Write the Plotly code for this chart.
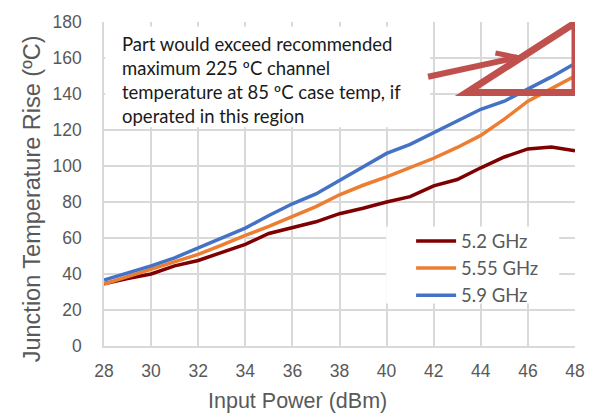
import plotly.graph_objects as go

power_dbm = [28, 29, 30, 31, 32, 33, 34, 35, 36, 37, 38, 39, 40, 41, 42, 43, 44, 45, 46, 47, 48]
rise_5_2 = [34.5, 37.5, 40, 44.5, 47.5, 52, 56.5, 62.5, 66, 69, 73.5, 76.5, 80, 83, 89, 92.5, 99, 105, 109.5, 110.5, 108.5]
rise_5_55 = [34.4, 38.5, 42.3, 46.6, 50.9, 56, 61.5, 66.4, 71.9, 77.4, 84, 89.3, 94, 99.3, 104.3, 110.3, 117, 126, 136, 143, 150]
rise_5_9 = [36.6, 40.5, 44.5, 49, 54.5, 60.5, 65.5, 72.5, 79, 84.5, 92, 100, 107, 112, 118.5, 124.5, 131.5, 136, 142.5, 149.5, 157]
series_names = ["5.2 GHz", "5.55 GHz", "5.9 GHz"]
series_colors = ["#7F0000", "#ED7D31", "#4472C4"]
x_ticks = [28, 30, 32, 34, 36, 38, 40, 42, 44, 46, 48]
y_ticks = [0, 20, 40, 60, 80, 100, 120, 140, 160, 180]

fig = go.Figure()
for name, vals, col in zip(series_names, [rise_5_2, rise_5_55, rise_5_9], series_colors):
    fig.add_trace(go.Scatter(x=power_dbm, y=vals, mode="lines", name=name,
                             line=dict(color=col, width=3.5), cliponaxis=False))

grid = "#D9D9D9"
gray = "#595959"
tickfont = dict(family="Liberation Sans, Arial", size=17.5, color=gray)
fig.update_layout(
    width=597, height=416,
    margin=dict(l=104, r=19, t=18, b=70),
    paper_bgcolor="white", plot_bgcolor="white",
    showlegend=True,
    legend=dict(x=0.652, y=(346 - 221) / 328, xanchor="left", yanchor="top",
                bgcolor="rgba(0,0,0,0)", font=dict(family="Lato", size=18.5, color=gray),
                tracegroupgap=0, itemwidth=40),
    xaxis=dict(range=[28, 48], tickvals=x_ticks, showgrid=True, gridcolor=grid, gridwidth=1.5,
               showline=True, linecolor=grid, linewidth=1.5, zeroline=False, ticks="",
               tickfont=tickfont, ticklabelstandoff=8),
    yaxis=dict(range=[0, 180], tickvals=y_ticks, showgrid=True, gridcolor=grid, gridwidth=1.5,
               showline=True, linecolor=grid, linewidth=1.5, zeroline=False, ticks="",
               tickfont=tickfont, ticklabelstandoff=17),
)

# axis titles
fig.add_annotation(xref="paper", yref="paper", x=(299 - 104) / 474, y=-(402 - 346) / 328,
                   xanchor="center", yanchor="middle", showarrow=False,
                   text="Input Power (dBm)",
                   font=dict(family="Liberation Sans, Arial", size=21.5, color=gray))
fig.add_annotation(xref="paper", yref="paper", x=-(104 - 31) / 474, y=(346 - 197) / 328,
                   xanchor="center", yanchor="middle", showarrow=False, textangle=-90,
                   text="Junction Temperature Rise (ºC)",
                   font=dict(family="Liberation Sans, Arial", size=23.5, color=gray))

red = "#C0504D"
# white legend background
fig.add_shape(type="rect", xref="paper", yref="paper",
              x0=(388 - 104) / 474, x1=(562 - 104) / 474, y0=(346 - 303) / 328, y1=(346 - 225) / 328,
              fillcolor="white", line=dict(width=0), layer="above")
# white text box
fig.add_shape(type="rect", xref="x", yref="y", x0=28.05, x1=41.85, y0=121.5, y1=177.5,
              fillcolor="white", line=dict(width=0), layer="above")
fig.add_annotation(xref="x", yref="y", x=28.7, y=175.2, xanchor="left", yanchor="top",
                   text="Part would exceed recommended<br>maximum 225 ºC channel<br>temperature at 85 ºC case temp, if<br>operated in this region",
                   showarrow=False, align="left",
                   font=dict(family="Lato", size=18.5, color="#1a1a1a"))
# triangle
fig.add_shape(type="path", xref="x", yref="y", path="M 43.4,140.8 L 48,140.8 L 48,179.5 Z",
              line=dict(color=red, width=7), layer="above")
# arrow
fig.add_shape(type="line", xref="x", yref="y", x0=41.76, y0=149.6, x1=45.55, y1=160.3,
              line=dict(color=red, width=6), layer="above")
fig.add_shape(type="line", xref="x", yref="y", x0=44.62, y0=162.8, x1=45.6, y1=160.2,
              line=dict(color=red, width=5), layer="above")

fig.write_html("out.html")
